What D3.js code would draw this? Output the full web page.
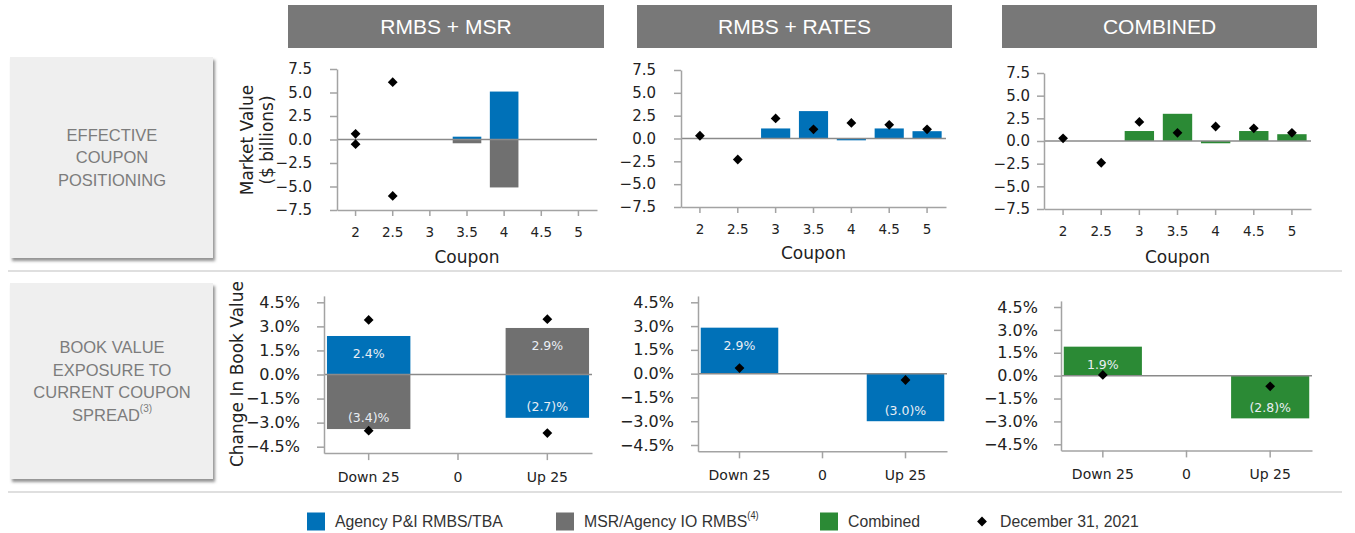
<!DOCTYPE html>
<html><head><meta charset="utf-8">
<script src="https://cdn.jsdelivr.net/npm/d3@7"></script>
<style>body{margin:0;background:#fff}svg{display:block}</style>
</head><body><svg id="c" width="1355" height="533"></svg>
<script>
// ---------- data ----------
const coupons = ["2","2.5","3","3.5","4","4.5","5"];
const mvTicks = [-7.5,-5.0,-2.5,0.0,2.5,5.0,7.5];
// RMBS + MSR panel
const msrPanelRmbs = [null,null,null,0.3,5.1,null,null];
const msrPanelMsr  = [null,null,null,-0.4,-5.1,null,null];
const msrPanelDecRmbs = [0.6,6.1,null,null,null,null,null];
const msrPanelDecMsr  = [-0.5,-6.0,null,null,null,null,null];
// RMBS + RATES panel
const ratesPanelRmbs = [null,null,1.1,3.0,-0.2,1.1,0.8];
const ratesPanelDec  = [0.3,-2.3,2.2,1.0,1.7,1.5,1.0];
// COMBINED panel
const combinedPanel    = [null,null,1.1,3.0,-0.25,1.1,0.75];
const combinedPanelDec = [0.3,-2.4,2.1,0.9,1.6,1.4,0.9];

const scenarios = ["Down 25","0","Up 25"];
const bvTicks = [-4.5,-3.0,-1.5,0.0,1.5,3.0,4.5];
const bvMsrRmbs = [2.4,null,-2.7];
const bvMsrMsr  = [-3.4,null,2.9];
const bvMsrDecRmbs = [3.4,null,-3.65];
const bvMsrDecMsr  = [-3.5,null,3.45];
const bvRates    = [2.9,null,-3.0];
const bvRatesDec = [0.35,null,-0.4];
const bvCombined    = [1.9,null,-2.8];
const bvCombinedDec = [0.05,null,-0.7];

const headers = ["RMBS + MSR","RMBS + RATES","COMBINED"];
const rowLabels = [["EFFECTIVE","COUPON","POSITIONING"],["BOOK VALUE","EXPOSURE TO","CURRENT COUPON","SPREAD"]];
const legendItems = [
  {label:"Agency P&I RMBS/TBA", sup:"", kind:"blue"},
  {label:"MSR/Agency IO RMBS", sup:"(4)", kind:"gray"},
  {label:"Combined", sup:"", kind:"green"},
  {label:"December 31, 2021", sup:"", kind:"dec"}
];

// ---------- style ----------
const C = {blue:"#0071b8", gray:"#707070", green:"#2b8a35", axis:"#a3a3a3", zero:"#8a8a8a",
           header:"#787878", box:"#efefef", boxText:"#7c7c7c", text:"#222"};
const AX = "DejaVu Sans, Verdana, sans-serif";
const HF = "Liberation Sans, Arial, sans-serif";

const svg = d3.select("#c");
const defs = svg.append("defs");
const f = defs.append("filter").attr("id","sh").attr("x","-5%").attr("y","-5%").attr("width","115%").attr("height","115%");
f.append("feDropShadow").attr("dx",2).attr("dy",3).attr("stdDeviation",1.8).attr("flood-color","#777").attr("flood-opacity",0.8);

// headers
const headerBoxes = [[288,604],[637,952],[1002,1317]];
headers.forEach((h,i)=>{
  const [a,b] = headerBoxes[i];
  svg.append("rect").attr("x",a).attr("y",5).attr("width",b-a).attr("height",43).attr("fill",C.header);
  svg.append("text").attr("x",(a+b)/2).attr("y",26.5).attr("dy","0.35em").attr("text-anchor","middle")
    .attr("fill","#fff").attr("font-family",HF).attr("font-size",21).text(h);
});

// row label boxes
const rowBoxes = [[57,258],[283,479]];
rowLabels.forEach((lines,i)=>{
  const [t,b] = rowBoxes[i];
  svg.append("rect").attr("x",10).attr("y",t).attr("width",203).attr("height",b-t).attr("fill",C.box).attr("filter","url(#sh)");
  const n = lines.length, lh = 22.5, cy = (t+b)/2;
  lines.forEach((ln,j)=>{
    const tx = svg.append("text").attr("x",112).attr("y",cy + (j-(n-1)/2)*lh).attr("dy","0.35em")
      .attr("text-anchor","middle").attr("fill",C.boxText).attr("font-family",HF).attr("font-size",16.5).text(ln);
    if (i===1 && j===n-1) tx.append("tspan").attr("font-size",10).attr("dy","-0.9em").text("(3)");
  });
});

// separators
svg.append("line").attr("x1",8).attr("x2",1342).attr("y1",271).attr("y2",271).attr("stroke","#d4d4d4").attr("stroke-width",1.5);
svg.append("line").attr("x1",8).attr("x2",1342).attr("y1",492).attr("y2",492).attr("stroke","#d4d4d4").attr("stroke-width",1.5);

const diamond = d3.symbol().type(d3.symbolSquare).size(48);

function styleAxis(g, fs){
  g.select(".domain").attr("stroke",C.axis).attr("stroke-width",1.5);
  g.selectAll(".tick line").attr("stroke",C.axis).attr("stroke-width",1.5);
  g.selectAll(".tick text").attr("fill",C.text).attr("font-family",AX).attr("font-size",fs);
}

function drawDiamonds(g, x, y, cats, vals){
  g.selectAll(null).data(cats.map((c,i)=>({c, v:vals[i]})).filter(d=>d.v!==null)).join("path")
    .attr("d",diamond).attr("fill","#000")
    .attr("transform",d=>`translate(${x(d.c)+x.bandwidth()/2},${y(d.v)}) rotate(45)`);
}
function drawBars(g, x, y, cats, vals, color){
  g.selectAll(null).data(cats.map((c,i)=>({c, v:vals[i]})).filter(d=>d.v!==null)).join("rect")
    .attr("x",d=>x(d.c)).attr("width",x.bandwidth())
    .attr("y",d=>y(Math.max(0,d.v))).attr("height",d=>Math.abs(y(d.v)-y(0)))
    .attr("fill",color);
}

// ---------- top panels ----------
const topLayout = [
  {x0:337,x1:597,yt:69,yb:210,pad:18,title:256.7,bars:[[msrPanelRmbs,C.blue],[msrPanelMsr,C.gray]],dec:[msrPanelDecRmbs,msrPanelDecMsr],ylab:true},
  {x0:681,x1:946,yt:70,yb:207,pad:18,title:253.5,bars:[[ratesPanelRmbs,C.blue]],dec:[ratesPanelDec]},
  {x0:1044,x1:1311,yt:73,yb:209,pad:7,title:256.7,bars:[[combinedPanel,C.green]],dec:[combinedPanelDec]}
];
topLayout.forEach(L=>{
  const g = svg.append("g");
  const x = d3.scaleBand().domain(coupons).range([L.x0,L.x1]).paddingInner(0.23).paddingOuter(0.115);
  const y = d3.scaleLinear().domain([-7.5,7.5]).range([L.yb,L.yt]);
  L.bars.forEach(([vals,col])=>drawBars(g,x,y,coupons,vals,col));
  g.append("line").attr("x1",L.x0).attr("x2",L.x1).attr("y1",y(0)).attr("y2",y(0)).attr("stroke",C.zero).attr("stroke-width",1.5);
  const ya = g.append("g").attr("transform",`translate(${L.x0},0)`)
    .call(d3.axisLeft(y).tickValues(mvTicks).tickFormat(d3.format(".1f")).tickSize(7).tickSizeOuter(0).tickPadding(L.pad));
  styleAxis(ya,15);
  const xa = g.append("g").attr("transform",`translate(0,${L.yb})`)
    .call(d3.axisBottom(x).tickSize(6).tickSizeOuter(0).tickPadding(11));
  styleAxis(xa,13.5);
  g.append("text").attr("x",(L.x0+L.x1)/2).attr("y",L.title).attr("dy","0.35em").attr("text-anchor","middle")
    .attr("font-family",AX).attr("font-size",17).attr("fill",C.text).text("Coupon");
  L.dec.forEach(d=>drawDiamonds(g,x,y,coupons,d));
  if (L.ylab){
    const t = g.append("text").attr("transform",`translate(247,140) rotate(-90)`).attr("text-anchor","middle")
      .attr("font-family",AX).attr("font-size",17).attr("fill",C.text);
    t.append("tspan").attr("x",0).attr("dy","0.35em").text("Market Value");
    t.append("tspan").attr("x",0).attr("dy","1.15em").text("($ billions)");
  }
});

// ---------- bottom panels ----------
const botLayout = [
  {x0:324,x1:592,t45:302.3,b45:446.7,pad:17,bars:[[bvMsrRmbs,C.blue],[bvMsrMsr,C.gray]],dec:[bvMsrDecRmbs,bvMsrDecMsr],ylab:true},
  {x0:698,x1:947,t45:302.3,b45:445,pad:17,bars:[[bvRates,C.blue]],dec:[bvRatesDec]},
  {x0:1061,x1:1312,t45:307,b45:444.3,pad:16,bars:[[bvCombined,C.green]],dec:[bvCombinedDec]}
];
const lblFmt = v => v<0 ? `(${d3.format(".1f")(-v)})%` : `${d3.format(".1f")(v)}%`;
botLayout.forEach(L=>{
  const g = svg.append("g");
  const x = d3.scaleBand().domain(scenarios).range([L.x0,L.x1]).paddingInner(0.066).paddingOuter(0.033);
  const y = d3.scaleLinear().domain([-4.5,4.5]).range([L.b45,L.t45]);
  const yb = y(-4.9), yt = y(4.9);
  L.bars.forEach(([vals,col])=>{
    drawBars(g,x,y,scenarios,vals,col);
    g.selectAll(null).data(scenarios.map((c,i)=>({c,v:vals[i]})).filter(d=>d.v!==null)).join("text")
      .attr("x",d=>x(d.c)+x.bandwidth()/2)
      .attr("y",d=>d.v>0 ? y(d.v)+18 : y(d.v)-11)
      .attr("dy","0.35em").attr("text-anchor","middle")
      .attr("font-family",AX).attr("font-size",12.5).attr("fill","#e9eef4").text(d=>lblFmt(d.v));
  });
  g.append("line").attr("x1",L.x0).attr("x2",L.x1).attr("y1",y(0)).attr("y2",y(0)).attr("stroke",C.zero).attr("stroke-width",1.5);
  const ys = d3.scaleLinear().domain([-4.9,4.9]).range([yb,yt]);
  const ya = g.append("g").attr("transform",`translate(${L.x0},0)`)
    .call(d3.axisLeft(ys).tickValues(bvTicks).tickFormat(d=>d3.format(".1f")(d)+"%").tickSize(7).tickSizeOuter(0).tickPadding(L.pad));
  styleAxis(ya,16);
  const xa = g.append("g").attr("transform",`translate(0,${yb})`)
    .call(d3.axisBottom(x).tickSize(7).tickSizeOuter(0).tickPadding(12));
  styleAxis(xa,14);
  L.dec.forEach(d=>drawDiamonds(g,x,y,scenarios,d));
  if (L.ylab){
    g.append("text").attr("transform",`translate(237.5,374) rotate(-90)`).attr("text-anchor","middle").attr("dy","0.35em")
      .attr("font-family",AX).attr("font-size",17).attr("fill",C.text).text("Change In Book Value");
  }
});

// ---------- legend ----------
const legendX = [307,556,820,976];
const LF = "Liberation Sans, Arial, sans-serif";
legendItems.forEach((it,i)=>{
  const g = svg.append("g").attr("transform",`translate(${legendX[i]},521.5)`);
  let tx;
  if (it.kind==="dec"){
    g.append("path").attr("d",diamond).attr("transform","translate(6,0) rotate(45)").attr("fill","#000");
    tx = 24;
  } else {
    g.append("rect").attr("x",0).attr("y",-9).attr("width",18).attr("height",18).attr("fill",C[it.kind]);
    tx = 28;
  }
  const t = g.append("text").attr("transform",`translate(${tx},0) scale(0.93,1)`).attr("dy","0.35em")
    .attr("font-family",LF).attr("font-size",17).attr("fill","#333").text(it.label);
  if (it.sup) t.append("tspan").attr("font-size",10).attr("dy","-0.8em").text(it.sup);
});
</script></body></html>
